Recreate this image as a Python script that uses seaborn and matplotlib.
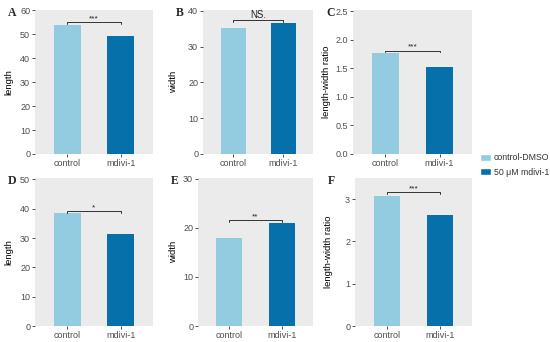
import numpy as np
import pandas as pd
import seaborn as sns
import matplotlib
matplotlib.use('Agg')
from matplotlib import pyplot as plt
from matplotlib.patches import Patch

# data
groups = ['control', 'mdivi-1']
length_top = [54.1, 49.2]
width_top = [35.3, 36.6]
ratio_top = [1.76, 1.52]
length_bot = [38.5, 31.3]
width_bot = [17.9, 21.0]
ratio_bot = [3.08, 2.62]

panels = ['A', 'B', 'C', 'D', 'E', 'F']
ylabels = ['length', 'width', 'length-width ratio', 'length', 'width', 'length-width ratio']
stars = ['***', 'NS.', '***', '*', '**', '***']
bracket_y = [55.1, 37.3, 1.81, 39.1, 21.6, 3.17]
ylims = [60.2, 40.2, 2.52, 50.5, 30.2, 3.5]
yticks = [[0, 10, 20, 30, 40, 50, 60], [0, 10, 20, 30, 40],
          [0.0, 0.5, 1.0, 1.5, 2.0, 2.5], [0, 10, 20, 30, 40, 50],
          [0, 10, 20, 30], [0, 1, 2, 3]]
legend_labels = ['control-DMSO', '50 \u03bcM mdivi-1']

light = '#93CCE0'
dark = '#0570A9'

sns.set_style('white', {'axes.facecolor': '#EBEBEB'})
plt.rcParams['font.family'] = ['Liberation Sans', 'DejaVu Sans']

W, H = 550, 342
fig = plt.figure(figsize=(5.5, 3.42), dpi=100)

# axes boxes in pixels: left, top, right, bottom
boxes = [(35, 10, 153, 154), (203, 10, 313, 154), (353, 10, 472, 154),
         (35, 178, 153, 326), (198, 178, 313, 326), (355, 178, 472, 326)]
ylabel_x = [13, 178, 331, 13, 178, 333]

values = [length_top, width_top, ratio_top, length_bot, width_bot, ratio_bot]

for i, vals in enumerate(values):
    l, t, r, b = boxes[i]
    ax = fig.add_axes([l / W, 1 - b / H, (r - l) / W, (b - t) / H])
    df = pd.DataFrame({'group': groups, 'value': vals})
    sns.barplot(data=df, x='group', y='value', hue='group',
                palette=[light, dark], width=0.5, ax=ax, legend=False,
                saturation=1, linewidth=0)
    ax.set_xlim(-0.6, 1.6)
    ax.set_ylim(0, ylims[i])
    ax.set_yticks(yticks[i])
    if isinstance(yticks[i][1], float):
        ax.set_yticklabels(['%.1f' % v for v in yticks[i]])
    ax.set_xlabel('')
    ax.set_ylabel(ylabels[i], fontsize=6.8, color='black')
    ax.yaxis.set_label_coords((ylabel_x[i] - l) / (r - l), 0.5)
    for s in ax.spines.values():
        s.set_visible(False)
    ax.tick_params(axis='both', length=2, width=0.6, color='#333333',
                   labelsize=6.5, labelcolor='#4D4D4D', pad=1.5,
                   left=True, bottom=True)

    # significance bracket
    y = bracket_y[i]
    tick = ylims[i] * 0.012
    ax.plot([0, 0, 1, 1], [y - tick, y, y, y - tick], color='#333333', lw=0.7)
    ax.text(0.5, y, stars[i], ha='center', va='bottom',
            fontsize=7 if stars[i] == 'NS.' else 6, color='#222222')

    fig.text((l - 27) / W, 1 - (t + 3) / H, panels[i], fontsize=8.5, fontweight='bold',
             family=['Liberation Serif', 'DejaVu Serif'], ha='left', va='center')

handles = [Patch(facecolor=light), Patch(facecolor=dark)]
fig.legend(handles, legend_labels, loc='center left', bbox_to_anchor=(474 / W, 1 - 165 / H),
           frameon=False, fontsize=6.3, handlelength=1.2, handleheight=0.9,
           handletextpad=0.35, labelspacing=0.6, labelcolor='#333333',
           borderaxespad=0.3)

fig.savefig('out.png', dpi=100)
